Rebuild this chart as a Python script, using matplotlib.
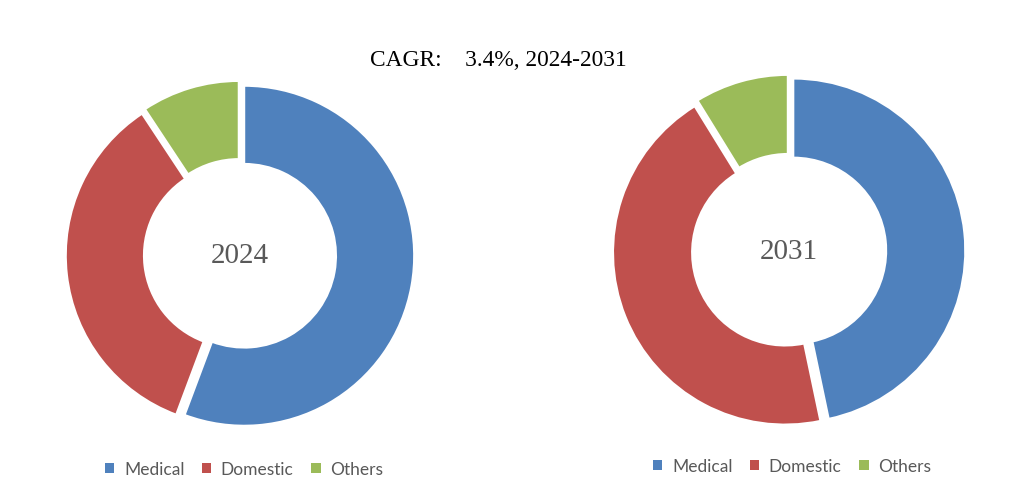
import matplotlib.pyplot as plt
from matplotlib.patches import Patch

segments = ["Medical", "Domestic", "Others"]
colors = ["#4F81BD", "#C0504D", "#9BBB59"]
share_2024 = [55.7, 35.0, 9.3]
share_2031 = [46.7, 44.5, 8.8]
years = ["2024", "2031"]
title = "CAGR:    3.4%, 2024-2031"

W, H = 1028, 502


def donut(fig, cx, cy, r, values, label):
    # place a square axes so that radius 1 maps to r pixels
    half = 1.1 * r
    ax = fig.add_axes([(cx - half) / W, (H - cy - half) / H, 2 * half / W, 2 * half / H])
    ax.pie(values, colors=colors, startangle=90, counterclock=False,
           explode=[0.025] * len(values),
           wedgeprops=dict(width=0.46, edgecolor="white", linewidth=1.5))
    ax.set_xlim(-1.1, 1.1)
    ax.set_ylim(-1.1, 1.1)
    ax.set_aspect("equal")
    ax.axis("off")
    ax.text(0, 0, label, ha="center", va="center", fontsize=21,
            family="Liberation Serif", color="#595959")
    return ax


fig = plt.figure(figsize=(W / 100, H / 100), dpi=100)
fig.patch.set_facecolor("white")

donut(fig, 240, 256, 170, share_2024, years[0])
donut(fig, 789, 252, 172, share_2031, years[1])

fig.text(498 / W, 1 - 61 / H, title, ha="center", va="center", fontsize=16.8,
         family="Liberation Serif", color="black")

handles = [Patch(facecolor=c, edgecolor="none") for c in colors]
for x, y in [(244, 470), (792, 467)]:
    fig.legend(handles, segments, loc="center", bbox_to_anchor=(x / W, 1 - y / H),
               ncol=3, frameon=False, handlelength=0.55, handleheight=0.55,
               handletextpad=0.55, columnspacing=1.0,
               prop={"family": "Lato", "size": 12.5}, labelcolor="#595959")

fig.savefig("out.png", dpi=100)
